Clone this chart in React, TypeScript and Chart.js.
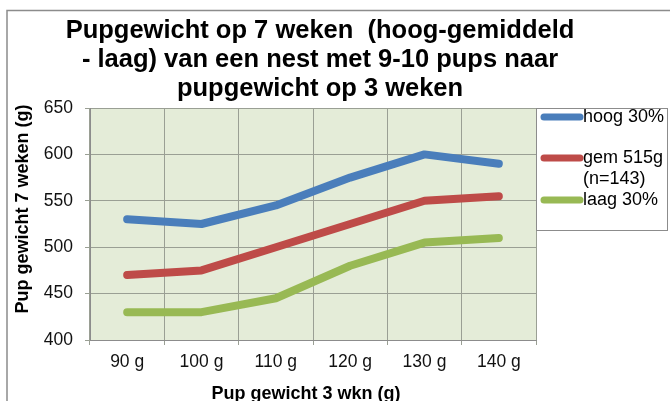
import React, { useEffect, useRef } from "react";
import { Chart, registerables } from "chart.js";

Chart.register(...registerables);

const categories = ["90 g", "100 g", "110 g", "120 g", "130 g", "140 g"];
const hoog = [530, 525, 545, 575, 600, 590];
const gem = [470, 475, 500, 525, 550, 555];
const laag = [430, 430, 445, 480, 505, 510];
const seriesLabels = ["hoog 30%", "gem 515g\n(n=143)", "laag 30%"];
const seriesColors = ["#4a7ebb", "#be4b48", "#98b954"];
const titleLines = [
  "Pupgewicht op 7 weken  (hoog-gemiddeld",
  "- laag) van een nest met 9-10 pups naar",
  "pupgewicht op 3 weken",
];
const yTitle = "Pup gewicht 7 weken (g)";
const xTitle = "Pup gewicht 3 wkn (g)";

const FONT = "'Liberation Sans', Arial, sans-serif";

const decorPlugin = {
  id: "decor",
  beforeDraw(chart: any) {
    const { ctx, chartArea } = chart;
    ctx.save();
    ctx.fillStyle = "#ffffff";
    ctx.fillRect(0, 0, chart.width, chart.height);
    ctx.fillStyle = "#e4ecd8";
    ctx.fillRect(chartArea.left, chartArea.top, chartArea.right - chartArea.left, chartArea.bottom - chartArea.top);
    ctx.restore();
  },
  afterDraw(chart: any) {
    const { ctx } = chart;
    ctx.save();
    // outer border
    ctx.strokeStyle = "#8c8c8c";
    ctx.lineWidth = 1.5;
    ctx.strokeRect(7, 10.5, chart.width + 10, chart.height + 10);
    // title
    ctx.fillStyle = "#000";
    ctx.font = `bold 25.5px ${FONT}`;
    ctx.textAlign = "center";
    ctx.textBaseline = "middle";
    titleLines.forEach((t, i) => ctx.fillText(t, 320, 31 + i * 29));
    // axis titles
    ctx.font = `bold 18px ${FONT}`;
    ctx.fillText(xTitle, 306, 394);
    ctx.save();
    ctx.translate(23, 209);
    ctx.rotate(-Math.PI / 2);
    ctx.fillText(yTitle, 0, 0);
    ctx.restore();
    // legend
    const lx = 536, ly = 108.5, lw = 131, lh = 122;
    ctx.fillStyle = "#ffffff";
    ctx.fillRect(lx, ly, lw, lh);
    ctx.strokeStyle = "#8c8c8c";
    ctx.lineWidth = 1;
    ctx.strokeRect(lx + 0.5, ly, lw, lh);
    const ys = [117, 158, 200];
    ctx.font = `18px ${FONT}`;
    ctx.textAlign = "left";
    ctx.textBaseline = "middle";
    chart.data.datasets.forEach((ds: any, i: number) => {
      ctx.strokeStyle = ds.borderColor;
      ctx.lineWidth = 7;
      ctx.lineCap = "round";
      ctx.beginPath();
      ctx.moveTo(544, ys[i]);
      ctx.lineTo(580, ys[i]);
      ctx.stroke();
      ctx.fillStyle = "#000";
      const parts = String(ds.label).split("\n");
      parts.forEach((p: string, j: number) => ctx.fillText(p, 583, ys[i] + j * 21));
    });
    ctx.restore();
  },
};

export default function App() {
  const ref = useRef<HTMLCanvasElement>(null);
  useEffect(() => {
    if (!ref.current) return;
    const mk = (label: string, data: number[], color: string) => ({
      label,
      data,
      borderColor: color,
      backgroundColor: color,
      borderWidth: 8,
      borderCapStyle: "round" as const,
      borderJoinStyle: "round" as const,
      pointRadius: 0,
      tension: 0,
    });
    const chart = new Chart(ref.current, {
      type: "line",
      data: {
        labels: categories,
        datasets: [
          mk(seriesLabels[0], hoog, seriesColors[0]),
          mk(seriesLabels[1], gem, seriesColors[1]),
          mk(seriesLabels[2], laag, seriesColors[2]),
        ],
      },
      options: {
        responsive: false,
        animation: false,
        layout: { padding: { top: 108, right: 134, bottom: 0, left: 0 } },
        plugins: { legend: { display: false }, title: { display: false }, tooltip: { enabled: false } },
        scales: {
          x: {
            offset: true,
            grid: { offset: true, color: "#9a9f94", tickLength: 5, drawTicks: true },
            border: { color: "#8c8c8c" },
            ticks: { color: "#111", font: { family: FONT, size: 17.5 }, padding: 7, maxRotation: 0 },
            afterFit: (s: any) => { s.height = 61; },
          },
          y: {
            min: 400,
            max: 650,
            ticks: { stepSize: 50, color: "#111", font: { family: FONT, size: 17.5 }, padding: 12 },
            grid: { color: "#9a9f94", tickLength: 5 },
            border: { color: "#8c8c8c" },
            afterFit: (s: any) => { s.width = 90; },
          },
        },
      },
      plugins: [decorPlugin],
    });
    return () => chart.destroy();
  }, []);
  return (
    <div style={{ position: "absolute", left: 0, top: 0, width: 670, height: 401 }}>
      <canvas ref={ref} width={670} height={401} />
    </div>
  );
}
